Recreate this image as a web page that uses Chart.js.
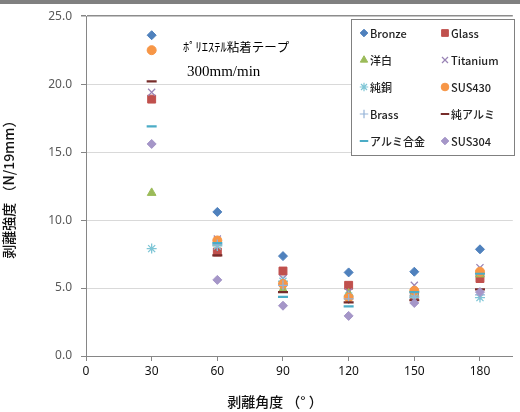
<!DOCTYPE html>
<html>
<head>
<meta charset="utf-8">
<script src="https://cdn.jsdelivr.net/npm/chart.js@4/dist/chart.umd.min.js"></script>
<style>
  html, body { margin: 0; padding: 0; background: #fff; }
  #wrap { width: 520px; height: 412px; position: relative; }
</style>
</head>
<body>
<div id="wrap"><canvas id="peelChart" width="520" height="412"></canvas></div>
<script>
// peel angle (deg) and peel strength (N/19mm) per adherend
const angles = [30, 60, 90, 120, 150, 180];

const bronze   = [23.6, 10.6, 7.35, 6.15, 6.2, 7.85];
const glass    = [18.9, 7.65, 6.25, 5.2, 4.4, 5.7];
const yohaku   = [12.0, 8.3, 4.9, 4.6, 4.6, 6.0];
const titanium = [19.4, 8.6, 5.7, 4.7, 5.2, 6.5];
const junDo    = [7.9, 8.1, 5.5, 4.4, 4.3, 4.3];
const sus430   = [22.5, 8.5, 5.3, 4.3, 4.8, 6.2];
const brass    = [null, 8.2, 5.2, 4.2, 4.4, 4.5];
const junAlumi = [20.2, 7.4, 4.7, 3.95, 4.1, 4.9];
const alumiGokin = [16.9, 8.3, 4.35, 3.65, 4.7, 6.05];
const sus304   = [15.6, 5.6, 3.7, 2.95, 3.9, 4.7];

const yTicks = [0, 5, 10, 15, 20, 25];
const xTicks = [0, 30, 60, 90, 120, 150, 180];

const series = [
  { label: 'Bronze',   data: bronze,   color: '#4f81bd', style: 'rectRot',  r: 4.5 },
  { label: 'Glass',    data: glass,    color: '#c0504d', style: 'rect',     r: 5.6 },
  { label: '洋白',     data: yohaku,   color: '#9bbb59', style: 'triangle', r: 5 },
  { label: 'Titanium', data: titanium, color: '#9983b5', style: 'crossRot', r: 5 },
  { label: '純銅',     data: junDo,    color: '#7fc6d6', style: 'star',     r: 5 },
  { label: 'SUS430',   data: sus430,   color: '#f79646', style: 'circle',   r: 4.5 },
  { label: 'Brass',    data: brass,    color: '#95b3d7', style: 'cross',    r: 5 },
  { label: '純アルミ', data: junAlumi, color: '#772c2a', style: 'line',     r: 5 },
  { label: 'アルミ合金', data: alumiGokin, color: '#4bacc6', style: 'line', r: 5 },
  { label: 'SUS304',   data: sus304,   color: '#a596c8', style: 'rectRot',  r: 4.5 }
];

const lineOnly = ['crossRot', 'star', 'cross', 'line'];

const datasets = series.map((s, i) => ({
  label: s.label,
  data: angles.map((a, j) => ({ x: a, y: s.data[j] })),
  pointStyle: s.style,
  pointRadius: s.r,
  pointHoverRadius: s.r,
  pointBackgroundColor: s.color,
  pointBorderColor: s.color,
  pointBorderWidth: lineOnly.includes(s.style) ? (s.style === 'line' ? 2.2 : 1.3) : 1,
  showLine: false,
  order: series.length - i
}));

const decor = {
  id: 'decor',
  beforeDraw(chart) {
    const ctx = chart.ctx;
    ctx.save();
    ctx.fillStyle = '#fff';
    ctx.fillRect(0, 0, chart.width, chart.height);
    ctx.fillStyle = '#808080';
    ctx.fillRect(0, 0, chart.width, 4);
    ctx.restore();
  },
  afterDraw(chart) {
    const ctx = chart.ctx;
    ctx.save();

    // note text
    ctx.fillStyle = '#000';
    ctx.textBaseline = 'middle';
    ctx.font = '12.5px "Noto Sans CJK JP"';
    ctx.fillText('ﾎﾟﾘｴｽﾃﾙ粘着テープ', 183, 47);
    ctx.font = '15px "Liberation Serif"';
    ctx.fillText('300mm/min', 187, 72);

    // x axis title
    ctx.font = '500 14px "Noto Sans CJK JP"';
    ctx.fillStyle = '#111';
    ctx.textAlign = 'center';
    ctx.fillText('剥離角度 （° ）', 275, 402);

    // legend box
    const bx = 351, by = 19, bw = 163, bh = 136;
    ctx.fillStyle = '#fff';
    ctx.fillRect(bx, by, bw, bh);
    ctx.strokeStyle = '#808080';
    ctx.lineWidth = 1;
    ctx.strokeRect(bx + 0.5, by + 0.5, bw, bh);

    ctx.textAlign = 'left';
    ctx.font = '500 11px "Noto Sans CJK JP"';
    series.forEach((s, i) => {
      const col = i % 2, row = Math.floor(i / 2);
      const mx = col === 0 ? 364 : 445;
      const my = 33 + row * 27;
      ctx.fillStyle = s.color;
      ctx.strokeStyle = s.color;
      ctx.lineWidth = lineOnly.includes(s.style) ? (s.style === 'line' ? 2 : 1.2) : 1;
      Chart.helpers.drawPoint(ctx, {
        pointStyle: s.style,
        radius: s.r * 0.85,
        borderWidth: ctx.lineWidth,
        rotation: 0
      }, mx, my);
      ctx.fillStyle = '#222';
      ctx.fillText(s.label, mx + 6, my + 1);
    });
    ctx.restore();
  }
};

new Chart(document.getElementById('peelChart'), {
  type: 'scatter',
  data: { datasets },
  plugins: [decor],
  options: {
    responsive: false,
    animation: false,
    layout: { padding: { top: 15, right: 0, left: 0, bottom: 0 } },
    plugins: {
      legend: { display: false },
      tooltip: { enabled: false }
    },
    scales: {
      x: {
        type: 'linear',
        min: 0,
        max: 195,
        afterBuildTicks(scale) {
          scale.ticks = xTicks.map(v => ({ value: v }));
        },
        afterFit(scale) {
          scale.height = 56;
        },
        ticks: {
          padding: 3,
          color: '#111',
          font: { family: '"Noto Sans"', size: 12 },
          maxRotation: 0
        },
        grid: {
          drawOnChartArea: false,
          drawTicks: true,
          tickLength: 5,
          color: '#868686'
        },
        border: { color: '#868686', width: 1 }
      },
      y: {
        min: 0,
        max: 25,
        afterBuildTicks(scale) {
          scale.ticks = yTicks.map(v => ({ value: v }));
        },
        afterFit(scale) { scale.width = 86; },
        ticks: {
          padding: 9,
          color: '#595959',
          font: { family: '"Noto Sans"', size: 12 },
          callback: v => v.toFixed(1)
        },
        grid: {
          color: ctx => (ctx.tick && ctx.tick.value === 25) ? '#8c8c8c' : '#d9d9d9',
          lineWidth: ctx => (ctx.tick && ctx.tick.value === 25) ? 1.5 : 1,
          tickLength: 5,
          tickColor: '#868686'
        },
        border: { color: '#868686', width: 1 },
        title: {
          display: true,
          text: '剥離強度 （N/19mm）',
          color: '#111',
          font: { family: '"Noto Sans CJK JP"', size: 14, weight: '500' },
          padding: { top: 0, bottom: 4 }
        }
      }
    }
  }
});
</script>
</body>
</html>
